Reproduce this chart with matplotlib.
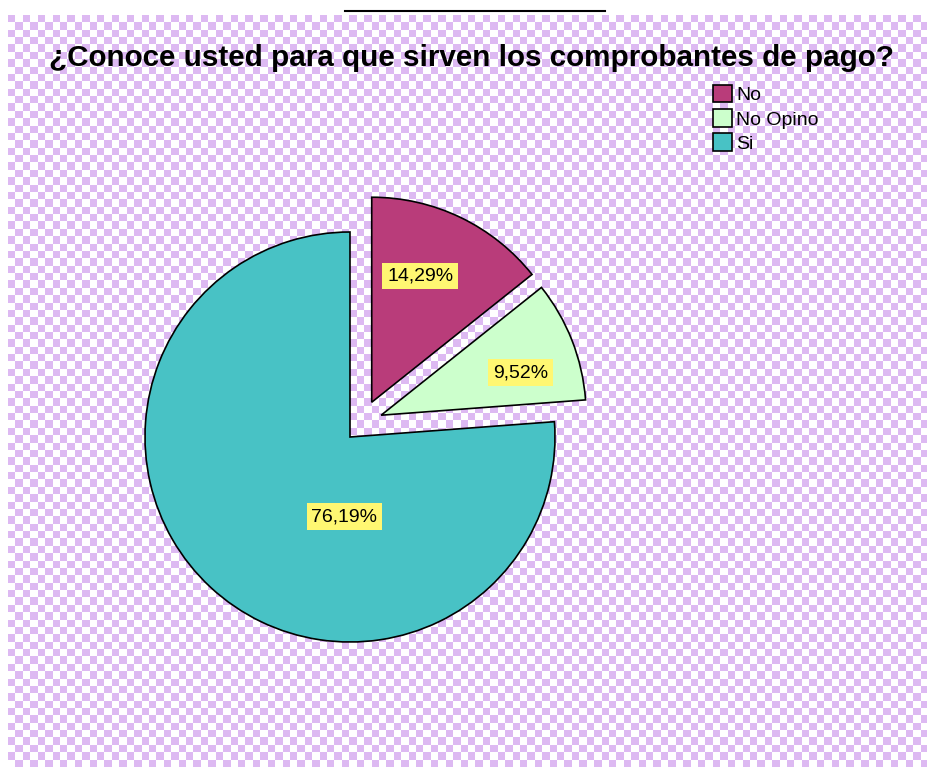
import numpy as np
import matplotlib
matplotlib.use("Agg")
from matplotlib import pyplot as plt

# data
labels = ["No", "No Opino", "Si"]
values = [14.29, 9.52, 76.19]
colors = ["#B93C7A", "#CCFFCC", "#48C2C5"]
title = "¿Conoce usted para que sirven los comprobantes de pago?"

plt.rcParams['font.family'] = ['Liberation Sans', 'DejaVu Sans']

W, H = 928, 767
fig = plt.figure(figsize=(W / 100, H / 100), dpi=100)
fig.patch.set_facecolor("white")

# checkerboard background
bg = fig.add_axes([8 / W, 0, 1 - 8 / W, (H - 15) / H])
ny, nx = 102, 124
checker = (np.add.outer(np.arange(ny), np.arange(nx)) % 2).astype(float)
cmap = matplotlib.colors.ListedColormap(["#DDB9F2", "#FFFFFF"])
bg.imshow(checker, cmap=cmap, aspect="auto", interpolation="nearest")
bg.axis("off")

# short rule above the chart
fig.add_artist(plt.Line2D([345 / W, 605 / W], [1 - 11 / H, 1 - 11 / H], color="black", lw=1.5))

# pie axes in pixel units
ax = fig.add_axes([0, 0, 1, 1])
ax.patch.set_alpha(0)

cx, cy, r = 350, H - 437, 205
wedges, texts, autotexts = ax.pie(
    values, colors=colors, startangle=90, counterclock=False,
    center=(cx, cy), radius=r, frame=True,
    autopct=lambda p: f"{p:.2f}%".replace(".", ","),
    wedgeprops=dict(edgecolor="black", linewidth=1.2),
    textprops=dict(fontsize=14, color="black"))
ax.set_xlim(0, W)
ax.set_ylim(0, H)
ax.axis("off")

# SPSS-style explode: direction (deg) and distance (px) of the pulled slices,
# label placement as (angle, fraction of radius) from each slice's corner
explode_dir = [58, 35, 0]
explode_dist = [41, 38, 0]
label_pos = [(69, 0.66), (17, 0.71), (-94, 0.39)]
for w, t, a, d, (la, lf) in zip(wedges, autotexts, explode_dir, explode_dist, label_pos):
    ox = cx + d * np.cos(np.radians(a))
    oy = cy + d * np.sin(np.radians(a))
    w.set_center((ox, oy))
    t.set_position((ox + lf * r * np.cos(np.radians(la)), oy + lf * r * np.sin(np.radians(la))))
    t.set_bbox(dict(facecolor="#FFF772", edgecolor="none", pad=3.5))

fig.text(472 / W, 1 - 58 / H, title, ha="center", va="center",
         fontsize=21.3, fontweight="bold")

ax.legend(wedges, labels, loc="upper left", bbox_to_anchor=(713 / W, 1 - 85 / H),
          bbox_transform=fig.transFigure, frameon=False, fontsize=14,
          handlelength=1.0, handleheight=1.0, handletextpad=0.2,
          labelspacing=0.25, borderpad=0, borderaxespad=0)

fig.savefig("out.png", dpi=100)
